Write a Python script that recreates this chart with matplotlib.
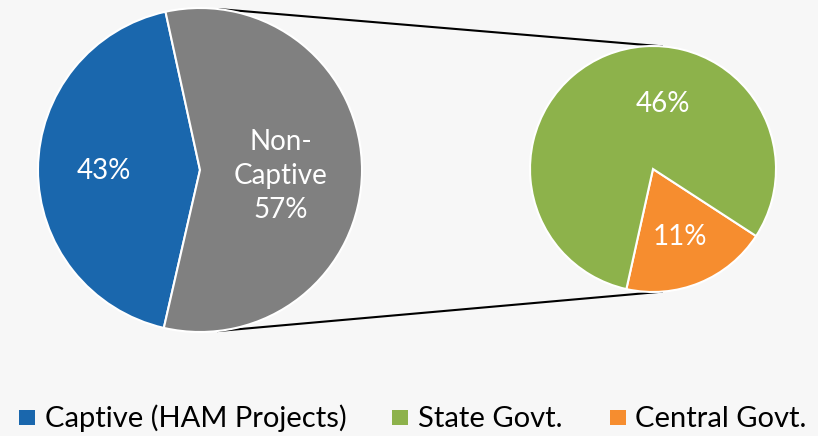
import matplotlib
matplotlib.use("Agg")
import matplotlib.pyplot as plt
import numpy as np
from matplotlib.patches import Rectangle

plt.rcParams['font.family'] = ['Lato', 'DejaVu Sans']

# Data
main_labels = ["Captive (HAM Projects)", "Non-Captive"]
main_values = [43, 57]
sub_labels = ["Central Govt.", "State Govt."]
sub_values = [11, 46]
legend_labels = ["Captive (HAM Projects)", "State Govt.", "Central Govt."]

C_BLUE = "#1A67AD"
C_GRAY = "#808080"
C_GREEN = "#8DB24B"
C_ORANGE = "#F68D2F"
BG = "#F7F7F7"

W, H = 818, 436
fig = plt.figure(figsize=(W / 100, H / 100), dpi=100, facecolor=BG)
ax = fig.add_axes([0, 0, 1, 1])
ax.set_facecolor(BG)

# geometry (pixel coords, y measured from top)
c1 = (200, 170); r1 = 162
c2 = (653, 169); r2 = 123
def P(x, y):
    return (x, H - y)

ax.pie(main_values, colors=[C_BLUE, C_GRAY], startangle=102.3, counterclock=True,
       center=P(*c1), radius=r1, frame=True,
       wedgeprops=dict(edgecolor="white", linewidth=1.5))
ax.pie(sub_values, colors=[C_ORANGE, C_GREEN], startangle=-102.5, counterclock=True,
       center=P(*c2), radius=r2, frame=True,
       wedgeprops=dict(edgecolor="white", linewidth=1.5))

# connector lines
for a1, a2 in [(83.6, 85.4), (-84.0, -85.4)]:
    t1, t2 = np.radians(a1), np.radians(a2)
    x1 = c1[0] + r1 * np.cos(t1); y1 = H - c1[1] + r1 * np.sin(t1)
    x2 = c2[0] + r2 * np.cos(t2); y2 = H - c2[1] + r2 * np.sin(t2)
    ax.plot([x1, x2], [y1, y2], color="black", lw=1.5, zorder=0.5, solid_capstyle="butt")

fs = 20
ax.text(*P(104, 171), f"{main_values[0]}%", color="white", fontsize=fs, ha="center", va="center")
ax.text(*P(281, 176), f"Non-\nCaptive\n{main_values[1]}%", color="white", fontsize=fs,
        ha="center", va="center", linespacing=1.40)
ax.text(*P(663, 104), f"{sub_values[1]}%", color="white", fontsize=fs, ha="center", va="center")
ax.text(*P(680, 237), f"{sub_values[0]}%", color="white", fontsize=fs, ha="center", va="center")

# legend
leg = [(19, 45, legend_labels[0], C_BLUE), (392, 418, legend_labels[1], C_GREEN),
       (610, 635, legend_labels[2], C_ORANGE)]
for xs, xt, lab, col in leg:
    ax.add_patch(Rectangle(P(xs, 425), 16, 15, facecolor=col, edgecolor="none"))
    ax.text(*P(xt, 427), lab, color="black", fontsize=21, ha="left", va="baseline")

ax.set_xlim(0, W)
ax.set_ylim(0, H)
ax.set_aspect("auto")
ax.axis("off")

fig.savefig("out.png", dpi=100, facecolor=BG)
